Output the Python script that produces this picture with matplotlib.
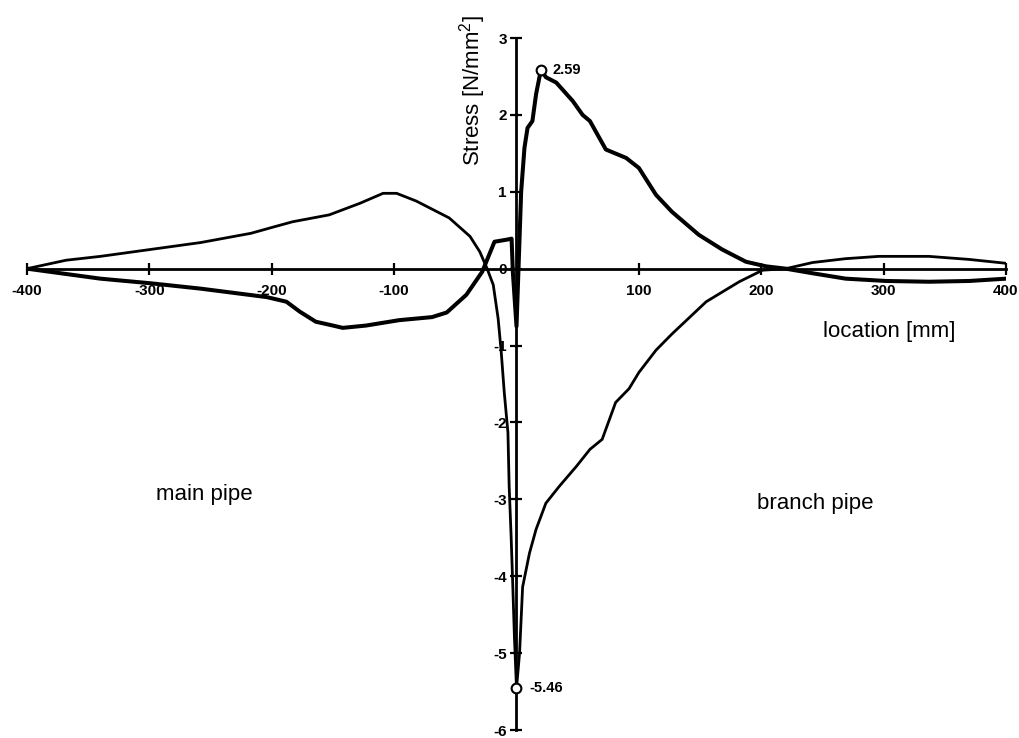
import matplotlib
matplotlib.use("Agg")
import matplotlib.pyplot as plt

plt.rcParams['font.family'] = ['Liberation Sans', 'DejaVu Sans']
plt.rcParams['mathtext.fontset'] = 'custom'
plt.rcParams['mathtext.rm'] = 'Liberation Sans'

# Stress distribution along the pipe junction (location in mm, stress in N/mm^2)
loc_a = [-400, -340, -299, -258, -204, -188, -177, -164, -150, -142, -123, -96,
         -69, -57, -41, -28, -18, -7, -4, -3, 0, 3.8, 6.5, 9, 13, 16, 20,
         24, 32.5, 46, 54, 60, 73, 89.6, 100, 114, 127, 149, 168, 187.5,
         204, 220, 242, 269, 302, 337, 370, 400]
stress_a = [0.0, -0.13, -0.19, -0.26, -0.37, -0.43, -0.56, -0.69, -0.74, -0.77,
            -0.74, -0.67, -0.63, -0.57, -0.34, -0.04, 0.35, 0.38, 0.39, -0.04,
            -0.75, 1.0, 1.57, 1.83, 1.92, 2.27, 2.59, 2.49, 2.42, 2.18, 2.0,
            1.92, 1.55, 1.44, 1.31, 0.96, 0.74, 0.44, 0.25, 0.09, 0.03, 0.0,
            -0.06, -0.13, -0.16, -0.17, -0.16, -0.13]

loc_b = [-400, -368, -340, -299, -258, -217, -199, -183, -153, -128, -109, -98,
         -82, -55, -38, -30, -24, -19, -15, -12.5, -10, -7, -6, -4.4, -3, -1.7,
         0, 2.5, 5, 10.6, 16, 24, 35, 49, 60, 70, 81, 92, 100, 114, 127, 155,
         182, 201, 220, 242, 269, 296, 337, 370, 400]
stress_b = [0.0, 0.11, 0.16, 0.25, 0.34, 0.46, 0.54, 0.61, 0.70, 0.85, 0.98,
            0.98, 0.88, 0.66, 0.42, 0.22, 0.0, -0.21, -0.65, -1.08, -1.61,
            -2.13, -2.83, -3.48, -4.14, -4.79, -5.46, -5.0, -4.14, -3.7, -3.39,
            -3.05, -2.83, -2.57, -2.35, -2.22, -1.74, -1.56, -1.35, -1.06,
            -0.85, -0.43, -0.17, -0.02, 0.0, 0.08, 0.13, 0.16, 0.16, 0.12, 0.07]

x_ticks = [-400, -300, -200, -100, 100, 200, 300, 400]
y_ticks = [-6, -5, -4, -3, -2, -1, 0, 1, 2, 3]

peak_max = (20, 2.59)
peak_min = (0, -5.46)

fig = plt.figure(figsize=(10.2, 7.38), dpi=100)
ax = fig.add_axes([27 / 1020, 8 / 738, 979 / 1020, 692 / 738])

ax.plot(loc_a, stress_a, color='black', lw=2.9, solid_joinstyle='round',
        solid_capstyle='round', zorder=3)
ax.plot(loc_b, stress_b, color='black', lw=2.0, solid_joinstyle='round',
        solid_capstyle='round', zorder=3)

# marked extreme values
for px, py in (peak_max, peak_min):
    ax.plot([px], [py], marker='o', ms=7, mfc='white', mec='black', mew=1.5,
            zorder=5, clip_on=False)
ax.text(peak_max[0] + 9.5, peak_max[1], f"{peak_max[1]:.2f}", fontsize=10.5,
        fontweight='bold', ha='left', va='center')
ax.text(peak_min[0] + 10.5, peak_min[1], f"{peak_min[1]:.2f}", fontsize=10.5,
        fontweight='bold', ha='left', va='center')

ax.set_xlim(-400, 400)
ax.set_ylim(-6, 3)

# axes crossing at the origin
ax.spines['left'].set_position(('data', 0))
ax.spines['bottom'].set_position(('data', 0))
ax.spines['top'].set_visible(False)
ax.spines['right'].set_visible(False)
for side in ('left', 'bottom'):
    ax.spines[side].set_linewidth(2.0)

ax.set_xticks(x_ticks)
ax.set_xticklabels([str(v) for v in x_ticks])
ax.set_yticks(y_ticks)
ax.set_yticklabels([str(v) for v in y_ticks])
ax.tick_params(axis='both', direction='inout', length=8, width=1.6,
               labelsize=11)
ax.tick_params(axis='x', pad=7)
ax.tick_params(axis='y', pad=3)
for lab in ax.get_xticklabels() + ax.get_yticklabels():
    lab.set_fontweight('bold')

ax.text(-36, 2.31, "Stress [N/mm$^{\\mathrm{2}}$]", rotation=90,
        fontsize=16, ha='center', va='center')
ax.text(305, -0.82, "location [mm]", fontsize=16, ha='center', va='center')
ax.text(-255, -2.94, "main pipe", fontsize=16, ha='center', va='center')
ax.text(244, -3.05, "branch pipe", fontsize=16, ha='center', va='center')

fig.savefig("out.png", dpi=100, facecolor='white')
